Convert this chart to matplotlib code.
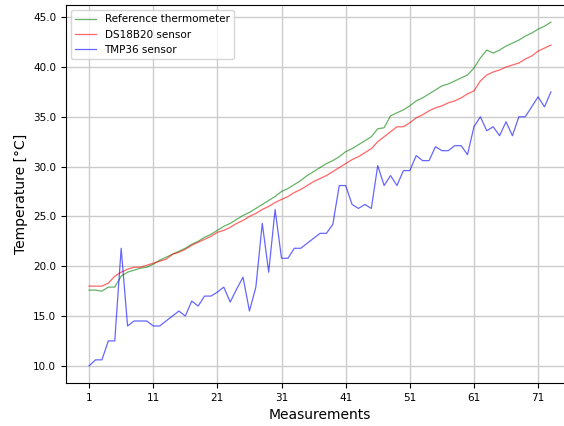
import matplotlib
matplotlib.use("Agg")
import matplotlib.pyplot as plt
import numpy as np

measurements = list(range(1, 74))

reference = [17.6, 17.6, 17.5, 17.9, 17.9, 19.0, 19.4, 19.6, 19.8, 19.9,
             20.2, 20.6, 20.9, 21.2, 21.5, 21.8, 22.2, 22.5, 22.9, 23.2,
             23.6, 24.0, 24.3, 24.7, 25.1, 25.4, 25.8, 26.2, 26.6, 27.0,
             27.5, 27.8, 28.2, 28.6, 29.1, 29.5, 29.9, 30.3, 30.6, 31.0,
             31.5, 31.8, 32.2, 32.6, 33.0, 33.8, 33.9, 35.1, 35.4, 35.7,
             36.1, 36.6, 36.9, 37.3, 37.7, 38.1, 38.3, 38.6, 38.9, 39.2,
             39.9, 40.9, 41.7, 41.4, 41.7, 42.1, 42.4, 42.7, 43.1, 43.4,
             43.8, 44.1, 44.5]

ds18b20 = [18.0, 18.0, 18.0, 18.3, 19.0, 19.4, 19.7, 19.9, 19.9, 20.1,
           20.3, 20.5, 20.7, 21.2, 21.4, 21.7, 22.1, 22.4, 22.7, 23.0,
           23.4, 23.6, 23.9, 24.3, 24.6, 25.0, 25.3, 25.7, 26.0, 26.4,
           26.7, 27.0, 27.4, 27.7, 28.1, 28.5, 28.8, 29.1, 29.5, 29.9,
           30.3, 30.7, 31.0, 31.4, 31.8, 32.5, 33.0, 33.5, 34.0, 34.0,
           34.4, 34.9, 35.2, 35.6, 35.9, 36.1, 36.4, 36.6, 36.9, 37.3,
           37.6, 38.6, 39.2, 39.5, 39.7, 40.0, 40.2, 40.4, 40.8, 41.1,
           41.6, 41.9, 42.2]

tmp36 = [10.0, 10.6, 10.6, 12.5, 12.5, 21.8, 14.0, 14.5, 14.5, 14.5,
         14.0, 14.0, 14.5, 15.0, 15.5, 15.0, 16.5, 16.0, 17.0, 17.0,
         17.4, 17.9, 16.4, 17.7, 18.9, 15.5, 17.9, 24.3, 19.4, 25.7,
         20.8, 20.8, 21.8, 21.8, 22.3, 22.8, 23.3, 23.3, 24.2, 28.1,
         28.1, 26.2, 25.8, 26.2, 25.8, 30.1, 28.1, 29.1, 28.1, 29.6,
         29.6, 31.1, 30.6, 30.6, 32.0, 31.6, 31.6, 32.1, 32.1, 31.2,
         34.0, 35.0, 33.6, 34.0, 33.1, 34.5, 33.1, 35.0, 35.0, 36.0,
         37.0, 36.0, 37.5]

labels = ["Reference thermometer", "DS18B20 sensor", "TMP36 sensor"]
xticks = [1, 11, 21, 31, 41, 51, 61, 71]
yticks = [10.0, 15.0, 20.0, 25.0, 30.0, 35.0, 40.0, 45.0]

fig = plt.figure(figsize=(5.64, 4.26), dpi=100)
ax = fig.add_axes([66/564, 43/426, 508/564, 378/426])

ax.plot(measurements, reference, color="green", alpha=0.6, lw=0.9, label=labels[0])
ax.plot(measurements, ds18b20, color="red", alpha=0.6, lw=0.9, label=labels[1])
ax.plot(measurements, tmp36, color="blue", alpha=0.6, lw=0.9, label=labels[2])

ax.set_xticks(xticks)
ax.set_xticklabels([str(t) for t in xticks])
ax.set_yticks(yticks)
ax.set_yticklabels([f"{t:.1f}" for t in yticks])
ax.tick_params(labelsize=7.5, length=3.5)
ax.grid(True, color="#cccccc", lw=1.0)
ax.set_axisbelow(True)

ax.set_xlabel("Measurements", fontsize=10)
ax.set_ylabel("Temperature [°C]", fontsize=10)

ax.legend(loc="upper left", fontsize=7.5)

fig.savefig("out.png", dpi=100)
